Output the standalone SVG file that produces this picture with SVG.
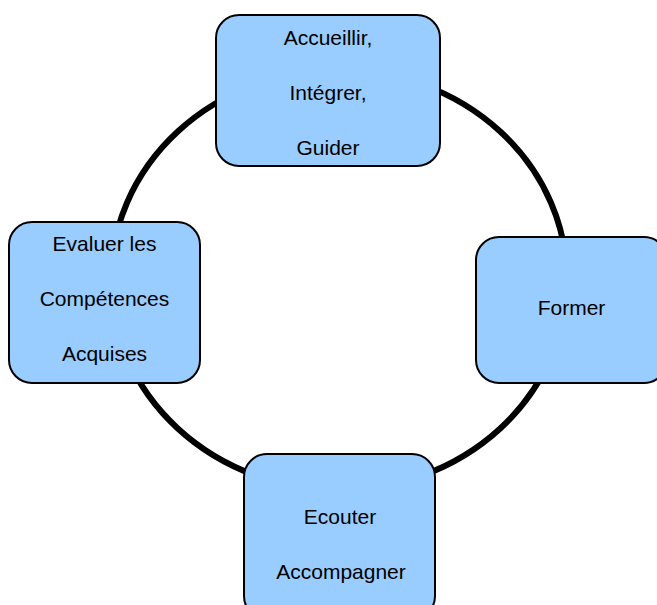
<svg xmlns="http://www.w3.org/2000/svg" width="657" height="605" viewBox="0 0 657 605">
<style>
.node{fill:#99CCFF;stroke:#000;stroke-width:2}
.lbl{font-family:"Liberation Sans",Arial,sans-serif;font-size:21px;fill:#000;text-anchor:middle}
.ring{fill:none;stroke:#000;stroke-width:6}
</style>
<rect width="657" height="605" fill="#fff"/>
<g id="connectors">
<ellipse class="ring" cx="339" cy="280" rx="228" ry="210"/>
</g>
<g id="node-accueillir">
<rect class="node" x="216" y="15" width="224" height="151" rx="23" ry="23"/>
<text class="lbl" x="328" y="44.5">Accueillir,</text>
<text class="lbl" x="328" y="99.5">Intégrer,</text>
<text class="lbl" x="328" y="154.5">Guider</text>
</g>
<g id="node-former">
<rect class="node" x="476" y="237" width="191" height="146" rx="23" ry="23"/>
<text class="lbl" x="571.5" y="314.5">Former</text>
</g>
<g id="node-ecouter">
<rect class="node" x="244" y="454" width="191" height="165" rx="23" ry="23"/>
<text class="lbl" x="340" y="523.5">Ecouter</text>
<text class="lbl" x="341" y="578.5">Accompagner</text>
</g>
<g id="node-evaluer">
<rect class="node" x="9" y="222" width="191" height="161" rx="23" ry="23"/>
<text class="lbl" x="104.5" y="251">Evaluer les</text>
<text class="lbl" x="104.5" y="306">Compétences</text>
<text class="lbl" x="104.5" y="361">Acquises</text>
</g>
</svg>
